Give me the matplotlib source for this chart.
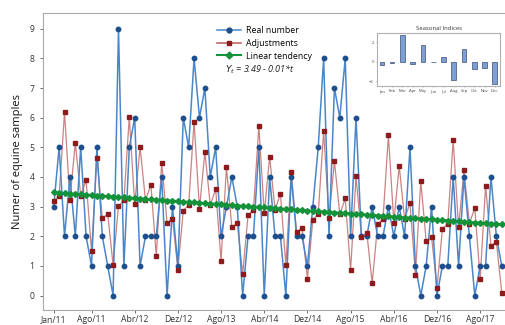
import matplotlib
matplotlib.use("Agg")
import matplotlib.pyplot as plt
from matplotlib.lines import Line2D
import numpy as np

plt.rcParams['font.family'] = ['Open Sans', 'DejaVu Sans']

# ---- data ----
real_number = [3, 5, 2, 4, 2, 5, 2, 1, 5, 2, 1, 0,
               9, 1, 5, 6, 1, 2, 2, 2, 4, 0, 3, 1,
               6, 5, 8, 6, 7, 4, 5, 2, 3, 4, 3, 0,
               2, 2, 5, 0, 4, 2, 2, 0, 4, 2, 2, 1,
               3, 5, 8, 2, 7, 6, 8, 2, 6, 2, 2, 3,
               2, 2, 3, 2, 3, 2, 5, 1, 0, 1, 3, 0,
               1, 1, 4, 1, 4, 2, 0, 1, 1, 4, 2, 1]
months = ['Jan', 'Feb', 'Mar', 'Apr', 'May', 'Jun',
          'Jul', 'Aug', 'Sep', 'Oct', 'Nov', 'Dec']
seasonal_indices = [-0.30, -0.10, 2.73, -0.20, 1.73, -0.05,
                    0.50, -1.90, 1.27, -0.75, -0.60, -2.30]
trend_intercept = 3.49
trend_slope = -0.013
tick_labels = ['Jan/11', 'Ago/11', 'Abr/12', 'Dez/12', 'Ago/13', 'Abr/14',
               'Dez/14', 'Ago/15', 'Abr/16', 'Dez/16', 'Ago/17']
tick_index = [0, 7, 15, 23, 31, 39, 47, 55, 63, 71, 79]

# ---- derived model values (trend + seasonal) ----
n = len(real_number)
idx = np.arange(n)
t = idx + 1
linear_tendency = trend_intercept + trend_slope * t
adjustments = linear_tendency + np.array([seasonal_indices[i % 12] for i in idx])

fig = plt.figure(figsize=(5.05, 3.25), dpi=100)
ax = fig.add_axes([0.085, 0.045, 0.915, 0.915])

blue_line = '#4a86c8'
blue_mark = '#1d4f8e'
red_line = '#b85a5a'
red_mark = '#8e1b1b'
green = '#13923a'

ax.plot(idx, adjustments, color=red_line, lw=0.9, alpha=0.75, zorder=1)
ax.plot(idx, real_number, color=blue_line, lw=1.1, zorder=2)
ax.plot(idx, real_number, ls='none', marker='o', ms=3.2, color=blue_mark, zorder=3)
ax.plot(idx, adjustments, ls='none', marker='s', ms=3.0, color=red_mark, zorder=4)
ax.plot(idx, linear_tendency, color=green, lw=1.8, marker='D', ms=3.0,
        mfc=green, mec=green, zorder=5)

ax.set_xlim(-2.0, 83.6)
ax.set_ylim(-0.5, 9.53)
ax.set_yticks(range(0, 10))
ax.set_xticks(tick_index)
ax.set_xticklabels(tick_labels)
ax.tick_params(axis='both', labelsize=6.2, colors='#555555', length=2.5, width=0.6,
               labelcolor='#333333')
ax.tick_params(axis='x', pad=1.0)
for s in ['left', 'top', 'bottom']:
    ax.spines[s].set_color('#aaaaaa')
    ax.spines[s].set_linewidth(0.8)
ax.spines['right'].set_visible(False)
ax.set_ylabel('Numer of equine samples', fontsize=8, color='#111111', labelpad=5)

handles = [
    Line2D([], [], color=blue_line, marker='o', ms=3.5, mfc=blue_mark, mec=blue_mark, lw=1.1),
    Line2D([], [], color=red_line, marker='s', ms=3.5, mfc=red_mark, mec=red_mark, lw=1.1),
    Line2D([], [], color=green, marker='D', ms=3.5, lw=1.5),
]
leg = ax.legend(handles, ['Real number', 'Adjustments', 'Linear tendency'],
                loc='upper left', bbox_to_anchor=(0.365, 0.975), frameon=False,
                fontsize=6.3, handlelength=2.8, handletextpad=0.5,
                labelspacing=0.45, borderaxespad=0.2)
ax.text(0.395, 0.8, r'$Y_t$ = 3.49 - 0.01*t', transform=ax.transAxes,
        fontsize=6.5, style='italic', color='#222222')

# ---- inset: seasonal indices ----
ins = fig.add_axes([0.746, 0.735, 0.245, 0.165])
ins.bar(range(12), seasonal_indices, width=0.45, color='#7f9ed2',
        edgecolor='#3b4f7a', linewidth=0.5)
ins.set_xlim(-0.5, 11.55)
ins.set_ylim(-2.48, 3.0)
ins.set_yticks([-2, 0, 2])
ins.set_xticks(range(12))
ins.set_xticklabels(months)
ins.tick_params(axis='both', labelsize=3.0, length=1, width=0.4, pad=1,
                colors='#777777', labelcolor='#444444')
for s in ins.spines.values():
    s.set_color('#b0b0b0')
    s.set_linewidth(0.8)
ins.set_title('Seasonal Indices', fontsize=4.3, pad=2, color='#333333')

fig.savefig('out.png', dpi=100)
